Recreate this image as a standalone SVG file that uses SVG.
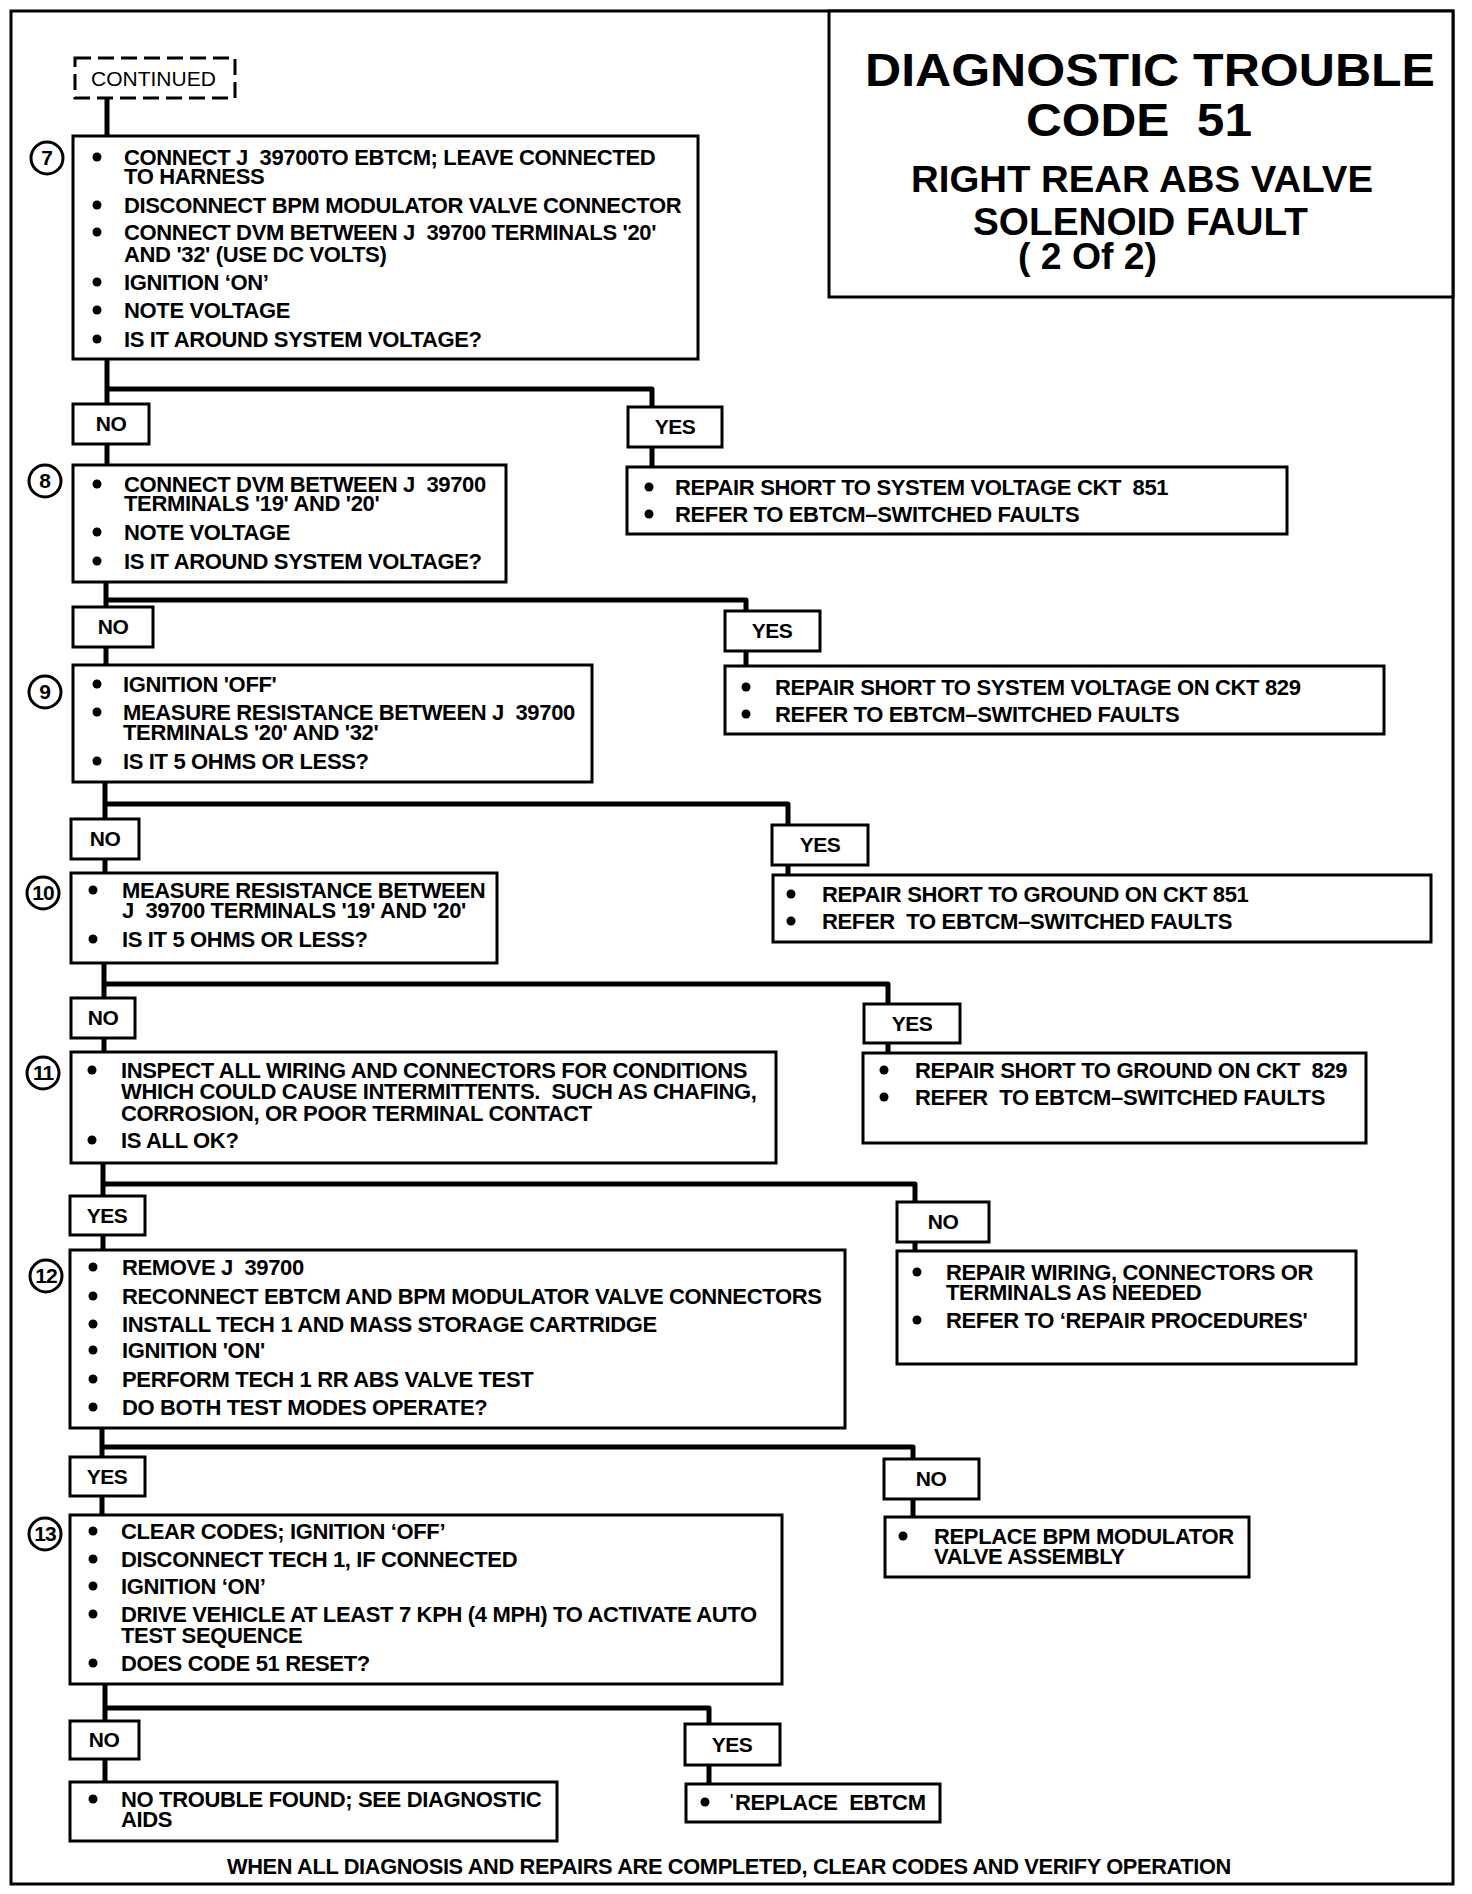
<svg xmlns="http://www.w3.org/2000/svg" width="1472" height="1894" viewBox="0 0 1472 1894">
<style>
.bg{fill:#fff}
.frame{fill:none;stroke:#000;stroke-width:3}
.box{fill:#fff;stroke:#000;stroke-width:3}
.dash{fill:#fff;stroke:#000;stroke-width:3;stroke-dasharray:16 7}
.conn{fill:none;stroke:#000;stroke-width:5;stroke-linejoin:round}
.circ{fill:#fff;stroke:#000;stroke-width:3}
.t{font-family:"Liberation Sans",Arial,Helvetica,sans-serif;font-size:22px;font-weight:bold;letter-spacing:-0.35px;fill:#000;white-space:pre}
.lbl{font-family:"Liberation Sans",Arial,Helvetica,sans-serif;font-size:21px;font-weight:bold;letter-spacing:-0.5px;fill:#000;text-anchor:middle}
.num{font-family:"Liberation Sans",Arial,Helvetica,sans-serif;font-size:21px;font-weight:bold;fill:#000;text-anchor:middle}
.title{font-family:"Liberation Sans",Arial,Helvetica,sans-serif;font-weight:bold;fill:#000}
.cont{font-family:"Liberation Sans",Arial,Helvetica,sans-serif;font-size:21px;fill:#000}
</style>
<rect class="bg" x="0" y="0" width="1472" height="1894"/>
<rect class="frame" x="11" y="11" width="1442" height="1873"/>

<g id="title">
<rect class="box" x="829" y="11" width="624" height="286"/>
<text class="title" x="865" y="86" font-size="46" textLength="570" lengthAdjust="spacingAndGlyphs">DIAGNOSTIC TROUBLE</text>
<text class="title" x="1026" y="136" font-size="46" textLength="226" lengthAdjust="spacingAndGlyphs" style="white-space:pre">CODE  51</text>
<text class="title" x="911" y="192" font-size="37" textLength="462" lengthAdjust="spacingAndGlyphs">RIGHT REAR ABS VALVE</text>
<text class="title" x="973" y="235" font-size="38" textLength="335" lengthAdjust="spacingAndGlyphs">SOLENOID FAULT</text>
<text class="title" x="1018" y="269" font-size="36" textLength="139" lengthAdjust="spacingAndGlyphs">( 2 Of 2)</text>
</g>

<g id="connectors">
<path class="conn" d="M107 98 V136"/>
<path class="conn" d="M107 359 V465 M107 389 H652 V467"/>
<path class="conn" d="M106 582 V665 M106 600 H746 V666"/>
<path class="conn" d="M105 782 V873 M105 804 H788 V875"/>
<path class="conn" d="M104 963 V1052 M104 984 H888 V1053"/>
<path class="conn" d="M103 1163 V1250 M103 1184 H915 V1251"/>
<path class="conn" d="M102 1428 V1515 M102 1447 H913 V1517"/>
<path class="conn" d="M105 1684 V1782 M105 1708 H709 V1784"/>
</g>

<g id="continued">
<rect class="dash" x="75" y="58" width="160" height="40"/>
<text class="cont" x="91" y="86">CONTINUED</text>
</g>

<g id="step7">
<circle class="circ" cx="47" cy="158" r="16"/>
<text class="num" x="47" y="165">7</text>
<rect class="box" x="73" y="136" width="625" height="223"/>
<circle cx="97" cy="157" r="4.5"/><text class="t" x="124" y="165">CONNECT J  39700TO EBTCM; LEAVE CONNECTED</text>
<text class="t" x="124" y="184">TO HARNESS</text>
<circle cx="97" cy="205" r="4.5"/><text class="t" x="124" y="213">DISCONNECT BPM MODULATOR VALVE CONNECTOR</text>
<circle cx="97" cy="232" r="4.5"/><text class="t" x="124" y="240">CONNECT DVM BETWEEN J  39700 TERMINALS '20'</text>
<text class="t" x="124" y="262">AND '32' (USE DC VOLTS)</text>
<circle cx="97" cy="282" r="4.5"/><text class="t" x="124" y="290">IGNITION ‘ON’</text>
<circle cx="97" cy="310" r="4.5"/><text class="t" x="124" y="318">NOTE VOLTAGE</text>
<circle cx="97" cy="339" r="4.5"/><text class="t" x="124" y="347">IS IT AROUND SYSTEM VOLTAGE?</text>
</g>

<g id="no1"><rect class="box" x="73" y="404" width="76" height="40"/><text class="lbl" x="111" y="431">NO</text></g>
<g id="yes1"><rect class="box" x="628" y="407" width="94" height="40"/><text class="lbl" x="675" y="434">YES</text></g>

<g id="result1">
<rect class="box" x="627" y="467" width="660" height="67"/>
<circle cx="649" cy="487" r="4.5"/><text class="t" x="675" y="495">REPAIR SHORT TO SYSTEM VOLTAGE CKT  851</text>
<circle cx="649" cy="514" r="4.5"/><text class="t" x="675" y="522">REFER TO EBTCM–SWITCHED FAULTS</text>
</g>

<g id="step8">
<circle class="circ" cx="45" cy="481" r="16"/>
<text class="num" x="45" y="488">8</text>
<rect class="box" x="73" y="465" width="433" height="117"/>
<circle cx="97" cy="484" r="4.5"/><text class="t" x="124" y="492">CONNECT DVM BETWEEN J  39700</text>
<text class="t" x="124" y="511">TERMINALS '19' AND '20'</text>
<circle cx="97" cy="532" r="4.5"/><text class="t" x="124" y="540">NOTE VOLTAGE</text>
<circle cx="97" cy="561" r="4.5"/><text class="t" x="124" y="569">IS IT AROUND SYSTEM VOLTAGE?</text>
</g>

<g id="no2"><rect class="box" x="73" y="607" width="80" height="40"/><text class="lbl" x="113" y="634">NO</text></g>
<g id="yes2"><rect class="box" x="725" y="611" width="95" height="40"/><text class="lbl" x="772" y="638">YES</text></g>

<g id="result2">
<rect class="box" x="725" y="666" width="659" height="68"/>
<circle cx="746" cy="687" r="4.5"/><text class="t" x="775" y="695">REPAIR SHORT TO SYSTEM VOLTAGE ON CKT 829</text>
<circle cx="746" cy="714" r="4.5"/><text class="t" x="775" y="722">REFER TO EBTCM–SWITCHED FAULTS</text>
</g>

<g id="step9">
<circle class="circ" cx="45" cy="692" r="16"/>
<text class="num" x="45" y="699">9</text>
<rect class="box" x="73" y="665" width="519" height="117"/>
<circle cx="97" cy="684" r="4.5"/><text class="t" x="123" y="692">IGNITION 'OFF'</text>
<circle cx="97" cy="712" r="4.5"/><text class="t" x="123" y="720">MEASURE RESISTANCE BETWEEN J  39700</text>
<text class="t" x="123" y="740">TERMINALS '20' AND '32'</text>
<circle cx="97" cy="761" r="4.5"/><text class="t" x="123" y="769">IS IT 5 OHMS OR LESS?</text>
</g>

<g id="no3"><rect class="box" x="71" y="819" width="68" height="40"/><text class="lbl" x="105" y="846">NO</text></g>
<g id="yes3"><rect class="box" x="772" y="825" width="96" height="40"/><text class="lbl" x="820" y="852">YES</text></g>

<g id="result3">
<rect class="box" x="773" y="875" width="658" height="67"/>
<circle cx="791" cy="894" r="4.5"/><text class="t" x="822" y="902">REPAIR SHORT TO GROUND ON CKT 851</text>
<circle cx="791" cy="921" r="4.5"/><text class="t" x="822" y="929">REFER  TO EBTCM–SWITCHED FAULTS</text>
</g>

<g id="step10">
<circle class="circ" cx="43" cy="893" r="16"/>
<text class="num" x="43" y="900" letter-spacing="-1">10</text>
<rect class="box" x="71" y="873" width="426" height="90"/>
<circle cx="93" cy="890" r="4.5"/><text class="t" x="122" y="898">MEASURE RESISTANCE BETWEEN</text>
<text class="t" x="122" y="918">J  39700 TERMINALS '19' AND '20'</text>
<circle cx="93" cy="939" r="4.5"/><text class="t" x="122" y="947">IS IT 5 OHMS OR LESS?</text>
</g>

<g id="no4"><rect class="box" x="71" y="998" width="64" height="40"/><text class="lbl" x="103" y="1025">NO</text></g>
<g id="yes4"><rect class="box" x="864" y="1004" width="96" height="39"/><text class="lbl" x="912" y="1031">YES</text></g>

<g id="result4">
<rect class="box" x="863" y="1053" width="503" height="90"/>
<circle cx="884" cy="1070" r="4.5"/><text class="t" x="915" y="1078">REPAIR SHORT TO GROUND ON CKT  829</text>
<circle cx="884" cy="1097" r="4.5"/><text class="t" x="915" y="1105">REFER  TO EBTCM–SWITCHED FAULTS</text>
</g>

<g id="step11">
<circle class="circ" cx="43" cy="1073" r="16"/>
<text class="num" x="43" y="1080" letter-spacing="-1">11</text>
<rect class="box" x="71" y="1052" width="705" height="111"/>
<circle cx="92" cy="1070" r="4.5"/><text class="t" x="121" y="1078">INSPECT ALL WIRING AND CONNECTORS FOR CONDITIONS</text>
<text class="t" x="121" y="1099">WHICH COULD CAUSE INTERMITTENTS.  SUCH AS CHAFING,</text>
<text class="t" x="121" y="1121">CORROSION, OR POOR TERMINAL CONTACT</text>
<circle cx="92" cy="1140" r="4.5"/><text class="t" x="121" y="1148">IS ALL OK?</text>
</g>

<g id="yes5"><rect class="box" x="70" y="1196" width="75" height="39"/><text class="lbl" x="107" y="1223">YES</text></g>
<g id="no5"><rect class="box" x="897" y="1202" width="92" height="40"/><text class="lbl" x="943" y="1229">NO</text></g>

<g id="result5">
<rect class="box" x="897" y="1251" width="459" height="113"/>
<circle cx="917" cy="1272" r="4.5"/><text class="t" x="946" y="1280">REPAIR WIRING, CONNECTORS OR</text>
<text class="t" x="946" y="1300">TERMINALS AS NEEDED</text>
<circle cx="917" cy="1320" r="4.5"/><text class="t" x="946" y="1328">REFER TO ‘REPAIR PROCEDURES'</text>
</g>

<g id="step12">
<circle class="circ" cx="46" cy="1276" r="16"/>
<text class="num" x="46" y="1283" letter-spacing="-1">12</text>
<rect class="box" x="70" y="1250" width="775" height="178"/>
<circle cx="93" cy="1267" r="4.5"/><text class="t" x="122" y="1275">REMOVE J  39700</text>
<circle cx="93" cy="1296" r="4.5"/><text class="t" x="122" y="1304">RECONNECT EBTCM AND BPM MODULATOR VALVE CONNECTORS</text>
<circle cx="93" cy="1324" r="4.5"/><text class="t" x="122" y="1332">INSTALL TECH 1 AND MASS STORAGE CARTRIDGE</text>
<circle cx="93" cy="1350" r="4.5"/><text class="t" x="122" y="1358">IGNITION 'ON'</text>
<circle cx="93" cy="1379" r="4.5"/><text class="t" x="122" y="1387">PERFORM TECH 1 RR ABS VALVE TEST</text>
<circle cx="93" cy="1407" r="4.5"/><text class="t" x="122" y="1415">DO BOTH TEST MODES OPERATE?</text>
</g>

<g id="yes6"><rect class="box" x="70" y="1457" width="75" height="39"/><text class="lbl" x="107" y="1484">YES</text></g>
<g id="no6"><rect class="box" x="884" y="1459" width="95" height="40"/><text class="lbl" x="931" y="1486">NO</text></g>

<g id="result6">
<rect class="box" x="885" y="1517" width="364" height="60"/>
<circle cx="903" cy="1536" r="4.5"/><text class="t" x="934" y="1544">REPLACE BPM MODULATOR</text>
<text class="t" x="934" y="1564">VALVE ASSEMBLY</text>
</g>

<g id="step13">
<circle class="circ" cx="45" cy="1534" r="16"/>
<text class="num" x="45" y="1541" letter-spacing="-1">13</text>
<rect class="box" x="70" y="1515" width="712" height="169"/>
<circle cx="93" cy="1531" r="4.5"/><text class="t" x="121" y="1539">CLEAR CODES; IGNITION ‘OFF’</text>
<circle cx="93" cy="1559" r="4.5"/><text class="t" x="121" y="1567">DISCONNECT TECH 1, IF CONNECTED</text>
<circle cx="93" cy="1586" r="4.5"/><text class="t" x="121" y="1594">IGNITION ‘ON’</text>
<circle cx="93" cy="1614" r="4.5"/><text class="t" x="121" y="1622">DRIVE VEHICLE AT LEAST 7 KPH (4 MPH) TO ACTIVATE AUTO</text>
<text class="t" x="121" y="1643">TEST SEQUENCE</text>
<circle cx="93" cy="1663" r="4.5"/><text class="t" x="121" y="1671">DOES CODE 51 RESET?</text>
</g>

<g id="no7"><rect class="box" x="70" y="1721" width="69" height="38"/><text class="lbl" x="104" y="1747">NO</text></g>
<g id="yes7"><rect class="box" x="685" y="1724" width="95" height="41"/><text class="lbl" x="732" y="1752">YES</text></g>

<g id="result8">
<rect class="box" x="70" y="1782" width="487" height="59"/>
<circle cx="93" cy="1799" r="4.5"/><text class="t" x="121" y="1807">NO TROUBLE FOUND; SEE DIAGNOSTIC</text>
<text class="t" x="121" y="1827">AIDS</text>
</g>

<g id="result7">
<rect class="box" x="686" y="1784" width="254" height="38"/>
<circle cx="705" cy="1802" r="4.5"/><text class="t" x="728" y="1810">ˈREPLACE  EBTCM</text>
</g>

<text class="t" x="227" y="1874" textLength="1004" lengthAdjust="spacingAndGlyphs">WHEN ALL DIAGNOSIS AND REPAIRS ARE COMPLETED, CLEAR CODES AND VERIFY OPERATION</text>
</svg>
